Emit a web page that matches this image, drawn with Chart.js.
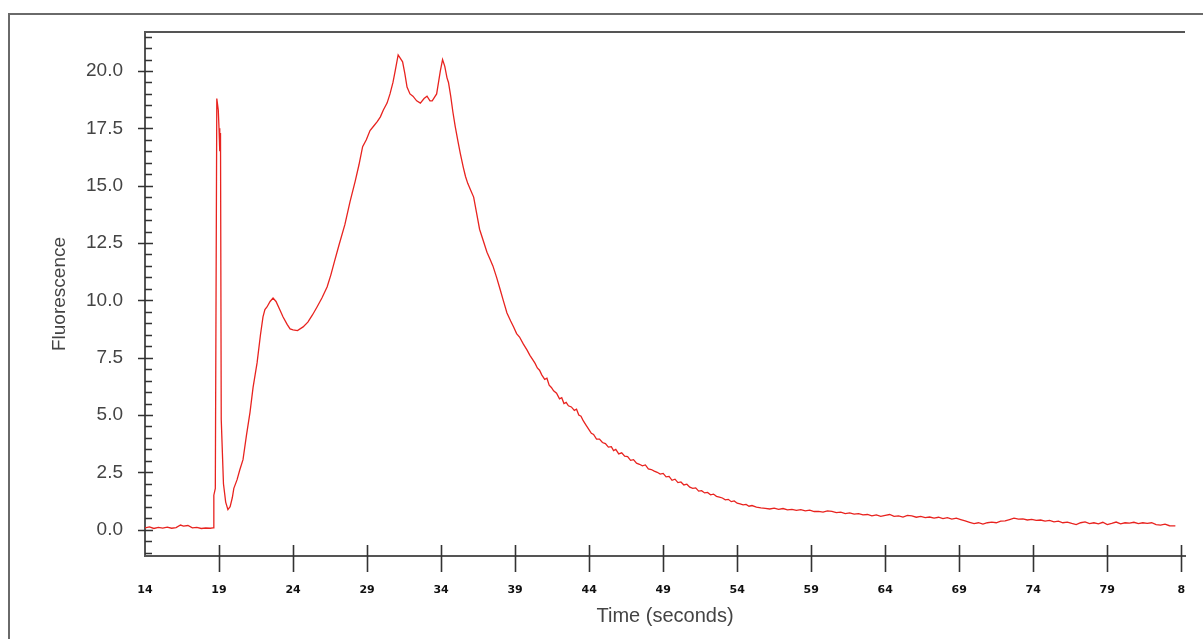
<!DOCTYPE html>
<html>
<head>
<meta charset="utf-8">
<script src="https://cdn.jsdelivr.net/npm/chart.js@4/dist/chart.umd.min.js"></script>
<style>
  body { margin: 0; background: #fff; }
  #frame { position: absolute; left: 8px; top: 13px; width: 1300px; height: 700px;
           border-left: 2px solid #6a6a6a; border-top: 2px solid #6a6a6a; }
  #chart { position: absolute; left: 0; top: 0; }
</style>
</head>
<body>
<div id="frame"></div>
<canvas id="chart" width="1203" height="639"></canvas>
<script>
// time axis (seconds)
const timeValues = [
  14.0, 14.3, 14.6, 14.9, 15.2, 15.5, 15.8, 16.1, 16.4, 16.6, 16.9, 17.2, 17.5, 17.8, 18.1, 18.4, 18.6,
  18.65, 18.75, 18.85, 18.95, 19.0, 19.05, 19.1, 19.15, 19.3, 19.45, 19.6, 19.75, 19.9,
  20.0, 20.22, 20.4, 20.62, 20.85, 21.09, 21.3, 21.57, 21.8, 21.97, 22.1, 22.24, 22.45, 22.65, 22.85,
  23.1, 23.32, 23.6, 23.8, 24.0, 24.3, 24.68, 25.0, 25.3, 25.62, 25.95, 26.3, 26.55, 26.8, 27.1,
  27.5, 27.85, 28.2, 28.45, 28.7, 28.95, 29.2, 29.45, 29.7, 29.9, 30.1, 30.35, 30.55, 30.75, 30.9,
  31.1, 31.25, 31.4, 31.55, 31.7, 31.9, 32.1, 32.35, 32.6, 32.85, 33.05, 33.25, 33.4, 33.55, 33.7,
  33.85, 33.95, 34.1, 34.25, 34.4, 34.5, 34.65, 34.8, 34.95, 35.15, 35.3, 35.5, 35.65, 35.8, 36.0,
  36.2, 36.4, 36.6, 36.85, 37.1, 37.3, 37.5, 37.75, 38.0, 38.2, 38.45, 38.7, 38.9, 39.1, 39.3, 39.55,
  39.8, 40.0, 40.2, 40.35, 40.5, 40.65, 40.8, 41.0, 41.15, 41.3, 41.45, 41.6, 41.8, 42.0, 42.15, 42.3,
  42.45, 42.6, 42.8, 43.0, 43.15, 43.3, 43.45, 43.6, 43.8, 44.0, 44.15, 44.3, 44.5, 44.7, 44.9, 45.1,
  45.3, 45.5, 45.65, 45.8, 46.0, 46.2, 46.4, 46.6, 46.8, 47.0, 47.2, 47.4, 47.6, 47.8, 48.0, 48.2,
  48.4, 48.6, 48.8, 49.0, 49.2, 49.4, 49.6, 49.8, 50.0, 50.2, 50.4, 50.6, 50.8, 51.0, 51.2, 51.4,
  51.6, 51.8, 52.0, 52.2, 52.4, 52.6, 52.8, 53.0, 53.2, 53.4, 53.6, 53.8, 54.0, 54.2, 54.4, 54.6,
  54.8, 55.0, 55.3, 55.6, 55.9, 56.2, 56.5, 56.8, 57.1, 57.4, 57.7, 58.0, 58.3, 58.6, 58.9, 59.2,
  59.5, 59.8, 60.1, 60.4, 60.7, 61.0, 61.3, 61.6, 61.9, 62.2, 62.5, 62.8, 63.1, 63.4, 63.7, 64.0,
  64.3, 64.6, 64.9, 65.2, 65.5, 65.8, 66.1, 66.4, 66.7, 67.0, 67.3, 67.6, 67.9, 68.2, 68.5, 68.8,
  69.1, 69.4, 69.7, 70.0, 70.3, 70.6, 70.9, 71.2, 71.5, 71.8, 72.1, 72.4, 72.7, 73.0, 73.3, 73.6,
  73.9, 74.2, 74.5, 74.8, 75.1, 75.4, 75.7, 76.0, 76.3, 76.6, 76.9, 77.2, 77.5, 77.8, 78.1, 78.4,
  78.7, 79.0, 79.3, 79.6, 79.9, 80.2, 80.5, 80.8, 81.1, 81.4, 81.7, 82.0, 82.3, 82.6, 82.9, 83.2, 83.6
];

// fluorescence readings
const fluorescenceValues = [
  0.08, 0.12, 0.05, 0.10, 0.07, 0.11, 0.06, 0.09, 0.20, 0.15, 0.18, 0.08, 0.10, 0.05, 0.07, 0.06, 0.08,
  1.5, 1.8, 18.8, 18.3, 17.5, 16.5, 17.3, 4.8, 2.0, 1.2, 0.87, 1.0, 1.4,
  1.8, 2.18, 2.6, 3.05, 4.1, 5.1, 6.2, 7.27, 8.5, 9.28, 9.6, 9.71, 9.95, 10.1, 9.95,
  9.6, 9.28, 8.95, 8.75, 8.71, 8.68, 8.84, 9.05, 9.35, 9.71, 10.1, 10.58, 11.1, 11.7, 12.4,
  13.3, 14.3, 15.2, 15.9, 16.7, 17.0, 17.4, 17.6, 17.8, 18.0, 18.3, 18.6, 19.0, 19.5, 20.0,
  20.7, 20.55, 20.4, 19.9, 19.3, 19.0, 18.9, 18.7, 18.6, 18.8, 18.9, 18.7, 18.7, 18.85, 19.0,
  19.6, 20.0, 20.5, 20.2, 19.7, 19.5, 18.9, 18.2, 17.6, 16.9, 16.4, 15.8, 15.4, 15.1, 14.8,
  14.5, 13.8, 13.1, 12.6, 12.1, 11.8, 11.5, 11.0, 10.45, 10.0, 9.45, 9.1, 8.84, 8.55, 8.4, 8.1,
  7.84, 7.6, 7.4, 7.25, 7.05, 6.95, 6.75, 6.55, 6.6, 6.3, 6.2, 6.05, 5.95, 5.7, 5.75, 5.5,
  5.55, 5.4, 5.35, 5.2, 5.25, 5.0, 4.95, 4.75, 4.55, 4.35, 4.2, 4.15, 3.95, 3.95, 3.8, 3.75,
  3.6, 3.62, 3.45, 3.5, 3.3, 3.35, 3.2, 3.18, 3.02, 3.05, 2.9, 2.85, 2.78, 2.82, 2.65, 2.62,
  2.55, 2.5, 2.42, 2.45, 2.3, 2.32, 2.15, 2.2, 2.05, 2.08, 1.95, 1.98, 1.85, 1.8, 1.82, 1.68,
  1.7, 1.6, 1.62, 1.52, 1.55, 1.45, 1.42, 1.38, 1.3, 1.32, 1.22, 1.25, 1.15, 1.12, 1.08, 1.1,
  1.02, 1.05, 0.98, 0.95, 0.93, 0.9, 0.94, 0.88, 0.92, 0.86, 0.88, 0.84, 0.87, 0.82, 0.85, 0.79,
  0.8, 0.76, 0.82, 0.8, 0.74, 0.76, 0.7, 0.73, 0.68, 0.7, 0.64, 0.66, 0.6, 0.64, 0.58, 0.62,
  0.66, 0.58, 0.6, 0.55, 0.62, 0.6, 0.54, 0.58, 0.52, 0.55, 0.5, 0.54, 0.48, 0.52, 0.46, 0.5,
  0.44, 0.38, 0.32, 0.26, 0.3, 0.24, 0.3, 0.33, 0.3, 0.37, 0.38, 0.44, 0.5, 0.46, 0.47, 0.42,
  0.45, 0.4, 0.42, 0.37, 0.4, 0.34, 0.37, 0.3, 0.33, 0.27, 0.22, 0.3, 0.34, 0.26, 0.3, 0.25,
  0.32, 0.22, 0.27, 0.33, 0.25, 0.3, 0.28, 0.32, 0.26, 0.3, 0.27, 0.3, 0.22, 0.2, 0.24, 0.17, 0.16
];

const xTickValues = [14, 19, 24, 29, 34, 39, 44, 49, 54, 59, 64, 69, 74, 79, 84];
const xTickLabels = ['14', '19', '24', '29', '34', '39', '44', '49', '54', '59', '64', '69', '74', '79', '8'];
const yTickValues = [0, 2.5, 5, 7.5, 10, 12.5, 15, 17.5, 20];
const yTickLabels = ['0.0', '2.5', '5.0', '7.5', '10.0', '12.5', '15.0', '17.5', '20.0'];
const yMinorStep = 0.5;

const points = timeValues.map((t, i) => ({ x: t, y: fluorescenceValues[i] }));

// tick marks that cross the axes / point inwards, like the original plot
const axisMarks = {
  id: 'axisMarks',
  afterDraw(chart) {
    const ctx = chart.ctx;
    const area = chart.chartArea;
    const xs = chart.scales.x;
    const ys = chart.scales.y;
    ctx.save();
    ctx.strokeStyle = '#555';
    ctx.lineWidth = 2;
    ctx.beginPath();
    ctx.moveTo(area.left, area.top);
    ctx.lineTo(area.right, area.top);
    ctx.stroke();

    ctx.strokeStyle = '#333';
    ctx.lineWidth = 1.6;
    ctx.beginPath();
    const first = Math.ceil(ys.min / yMinorStep) * yMinorStep;
    for (let v = first; v <= ys.max; v += yMinorStep) {
      const py = Math.round(ys.getPixelForValue(v)) + 0.5;
      const major = yTickValues.some(m => Math.abs(m - v) < 1e-6);
      ctx.moveTo(area.left - (major ? 7 : 0), py);
      ctx.lineTo(area.left + (major ? 8 : 7), py);
    }
    xTickValues.forEach(v => {
      if (v === xs.min) return;
      const px = Math.round(xs.getPixelForValue(v)) + 0.5;
      ctx.moveTo(px, area.bottom - 11);
      ctx.lineTo(px, area.bottom + 16);
    });
    ctx.stroke();
    ctx.restore();
  }
};

new Chart(document.getElementById('chart'), {
  type: 'line',
  data: {
    datasets: [{
      data: points,
      borderColor: '#e8231f',
      borderWidth: 1.3,
      pointRadius: 0,
      tension: 0,
      fill: false
    }]
  },
  options: {
    responsive: false,
    animation: false,
    events: [],
    layout: { padding: { top: 32, right: 18, left: 0, bottom: 0 } },
    plugins: { legend: { display: false }, tooltip: { enabled: false } },
    scales: {
      x: {
        type: 'linear',
        min: 14,
        max: 84.25,
        afterFit: s => { s.height = 83; },
        afterBuildTicks: s => { s.ticks = xTickValues.map(v => ({ value: v })); },
        // invisible tick marks just push the labels down; real marks come from the plugin
        grid: { display: true, drawOnChartArea: false, drawTicks: true, tickLength: 28, tickColor: 'rgba(0,0,0,0)' },
        border: { display: true, color: '#555', width: 2 },
        ticks: {
          padding: 0,
          maxRotation: 0,
          autoSkip: false,
          color: '#111',
          font: { family: 'DejaVu Sans', size: 11, weight: 'bold' },
          callback: (v) => xTickLabels[xTickValues.indexOf(v)]
        },
        title: {
          display: true,
          text: 'Time (seconds)',
          color: '#444',
          font: { family: 'Liberation Sans', size: 20 },
          padding: { top: 0, bottom: 11 }
        }
      },
      y: {
        min: -1.15,
        max: 21.7,
        afterFit: s => { s.width = 145; },
        afterBuildTicks: s => { s.ticks = yTickValues.map(v => ({ value: v })); },
        grid: { display: true, drawOnChartArea: false, drawTicks: true, tickLength: 22, tickColor: 'rgba(0,0,0,0)' },
        border: { display: true, color: '#555', width: 2 },
        ticks: {
          padding: 0,
          autoSkip: false,
          color: '#444',
          font: { family: 'Liberation Sans', size: 19 },
          callback: (v) => yTickLabels[yTickValues.indexOf(v)]
        },
        title: {
          display: true,
          text: 'Fluorescence',
          color: '#444',
          font: { family: 'Liberation Sans', size: 19 },
          padding: { top: 48, bottom: 0 }
        }
      }
    }
  },
  plugins: [axisMarks]
});
</script>
</body>
</html>
